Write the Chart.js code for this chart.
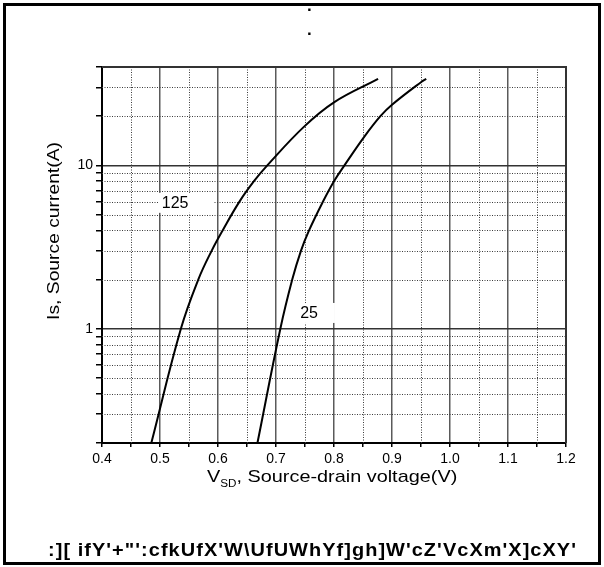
<!DOCTYPE html>
<html>
<head>
<meta charset="utf-8">
<title>Source-drain diode forward characteristic</title>
<script src="https://cdn.jsdelivr.net/npm/chart.js@4.4.1/dist/chart.umd.min.js"></script>
<style>
  html, body { margin: 0; padding: 0; background: #fff; }
  #wrap {
    position: relative;
    width: 604px;
    height: 567px;
    overflow: hidden;
    font-family: "Liberation Sans", Arial, sans-serif;
    color: #000;
  }
  #chart { position: absolute; left: 0; top: 0; }
  #frame {
    position: absolute;
    left: 3px;
    top: 3px;
    width: 592px;
    height: 556px;
    border: 3px solid #000;
    pointer-events: none;
  }
  .txt { position: absolute; white-space: nowrap; display: inline-block; }
  #dots { left: 307px; top: -6px; font-size: 17px; font-weight: bold; line-height: 24px; }
  #xTitle { top: 467px; font-size: 17px; line-height: 20px; transform-origin: center; }
  #xTitle sub { font-size: 10px; vertical-align: -5px; line-height: 0; }
  #yTitle { font-size: 17px; line-height: 20px; transform-origin: center; }
  #caption {
    left: 48px;
    top: 540px;
    font-size: 19px;
    line-height: 20px;
    font-weight: bold;
    letter-spacing: 1px;
    transform-origin: left center;
  }
</style>
</head>
<body>
<div id="wrap">
  <canvas id="chart" width="604" height="567"></canvas>
  <div id="frame"></div>
  <span class="txt" id="dots">.<br>.</span>
  <span class="txt" id="xTitle">V<sub>SD</sub>, Source-drain voltage(V)</span>
  <span class="txt" id="yTitle">Is, Source current(A)</span>
  <span class="txt" id="caption">:][ ifY'+"':cfkUfX'W\UfUWhYf]gh]W'cZ'VcXm'X]cXY'</span>
</div>
<script>
// curve: Tj = 125 C
const v125 = [0.485, 0.536, 0.566, 0.589, 0.608, 0.637, 0.662, 0.685, 0.748, 0.800, 0.876];
const i125 = [0.2, 1.0, 2.0, 3.0, 4.0, 6.0, 8.0, 10.0, 17.2, 24.3, 33.8];

// Tj = 25 C
const v25 = [0.668, 0.7075, 0.728, 0.743, 0.757, 0.781, 0.800, 0.818, 0.853, 0.880, 0.900, 0.951, 0.959];
const i25 = [0.2, 1.0, 2.0, 3.0, 4.0, 6.0, 8.0, 10.0, 15.1, 20.0, 23.5, 32.5, 33.8];

const curveNames = ["125", "25"];

const xTickLabels = ["0.4", "0.5", "0.6", "0.7", "0.8", "0.9", "1.0", "1.1", "1.2"];
const yTickValues = [0.2, 0.3, 0.4, 0.5, 0.6, 0.7, 0.8, 0.9, 1, 2, 3, 4, 5, 6, 7, 8, 9, 10, 20, 30, 40];
const yTickLabels = ["1", "10"];

// where the curve names sit, in data units
const namePos = [
  { x: 0.526, y: 5.9, padL: 3, padR: 25 },
  { x: 0.757, y: 1.25, padL: 5, padR: 17 }
];

const xMajor = xTickLabels.map(Number);
const xTickValues = [];
xMajor.forEach((v, i) => {
  xTickValues.push(v);
  if (i < xMajor.length - 1) xTickValues.push((v + xMajor[i + 1]) / 2);
});

const isMajorX = (v) => xMajor.some((m) => Math.abs(m - v) < 1e-6);
const isMajorY = (v) => yTickLabels.some((m) => Math.abs(Number(m) - v) < 1e-9);

function toPoints(xs, ys) {
  return xs.map((x, i) => ({ x: x, y: ys[i] }));
}

const minorGrid = {
  id: "minorGrid",
  beforeDatasetsDraw(chart) {
    const { ctx, chartArea: a, scales } = chart;
    ctx.save();
    ctx.strokeStyle = "#3a3a3a";
    ctx.lineWidth = 1;
    ctx.setLineDash([1, 1.5]);
    scales.x.ticks.forEach((t) => {
      if (isMajorX(t.value)) return;
      const px = Math.round(scales.x.getPixelForValue(t.value)) + 0.5;
      ctx.beginPath();
      ctx.moveTo(px, a.top);
      ctx.lineTo(px, a.bottom);
      ctx.stroke();
    });
    scales.y.ticks.forEach((t) => {
      if (isMajorY(t.value) || t.value <= 0.2 || t.value >= 40) return;
      const py = Math.round(scales.y.getPixelForValue(t.value)) + 0.5;
      ctx.beginPath();
      ctx.moveTo(a.left, py);
      ctx.lineTo(a.right, py);
      ctx.stroke();
    });
    ctx.restore();

    // curve names with a white box behind them
    ctx.save();
    ctx.font = "16px 'Liberation Sans', Arial, sans-serif";
    ctx.textBaseline = "middle";
    ctx.textAlign = "center";
    curveNames.forEach((name, i) => {
      const p = namePos[i];
      const cx = scales.x.getPixelForValue(p.x);
      const cy = scales.y.getPixelForValue(p.y);
      const w = ctx.measureText(name).width;
      ctx.fillStyle = "#fff";
      ctx.fillRect(cx - w / 2 - p.padL, cy - 10, w + p.padL + p.padR, 20);
      ctx.fillStyle = "#000";
      ctx.fillText(name, cx, cy + 1);
    });
    ctx.restore();
  },
  afterDraw(chart) {
    const { ctx, chartArea: a } = chart;
    ctx.save();
    ctx.strokeStyle = "#333";
    ctx.lineWidth = 2;
    ctx.beginPath();
    ctx.moveTo(a.left, a.top);
    ctx.lineTo(a.right, a.top);
    ctx.lineTo(a.right, a.bottom);
    ctx.stroke();
    ctx.restore();
  }
};

const curveStyle = {
  borderColor: "#000",
  borderWidth: 2,
  pointRadius: 0,
  fill: false,
  tension: 0.4
};

new Chart(document.getElementById("chart"), {
  type: "line",
  data: {
    datasets: [
      Object.assign({ label: curveNames[0], data: toPoints(v125, i125) }, curveStyle),
      Object.assign({ label: curveNames[1], data: toPoints(v25, i25) }, curveStyle)
    ]
  },
  options: {
    responsive: false,
    animation: false,
    devicePixelRatio: 1,
    layout: { padding: { left: 0, top: 67, right: 38, bottom: 94 } },
    plugins: {
      legend: { display: false },
      tooltip: { enabled: false }
    },
    scales: {
      x: {
        type: "linear",
        min: 0.4,
        max: 1.2,
        afterBuildTicks: (s) => {
          s.ticks = xTickValues.map((v) => ({ value: v }));
        },
        afterFit: (s) => {
          s.height = 30;
        },
        ticks: {
          autoSkip: false,
          maxRotation: 0,
          color: "#000",
          padding: 4,
          font: { family: "'Liberation Sans', Arial, sans-serif", size: 14 },
          callback: (v) => {
            const idx = xMajor.findIndex((m) => Math.abs(m - v) < 1e-6);
            return idx >= 0 ? xTickLabels[idx] : "";
          }
        },
        grid: {
          color: (c) => (c.tick && isMajorX(c.tick.value) ? "#5a5a5a" : "rgba(0,0,0,0)"),
          lineWidth: 1.5,
          tickColor: "#000",
          tickLength: 4,
          tickWidth: 1.5
        },
        border: { color: "#000", width: 2 }
      },
      y: {
        type: "logarithmic",
        min: 0.2,
        max: 40,
        afterBuildTicks: (s) => {
          s.ticks = yTickValues.map((v) => ({ value: v }));
        },
        afterFit: (s) => {
          s.width = 102;
        },
        ticks: {
          autoSkip: false,
          color: "#000",
          padding: 3,
          font: { family: "'Liberation Sans', Arial, sans-serif", size: 14 },
          callback: (v) => {
            const idx = yTickLabels.findIndex((m) => Math.abs(Number(m) - v) < 1e-9);
            return idx >= 0 ? yTickLabels[idx] : "";
          }
        },
        grid: {
          color: (c) => (c.tick && isMajorY(c.tick.value) ? "#333" : "rgba(0,0,0,0)"),
          lineWidth: 1.5,
          tickColor: "#000",
          tickLength: 6,
          tickWidth: 1.5
        },
        border: { color: "#000", width: 2 }
      }
    }
  },
  plugins: [minorGrid]
});

// stretch the outside texts to the widths measured on the picture
function placeTexts() {
  const xt = document.getElementById("xTitle");
  const w1 = xt.offsetWidth;
  xt.style.left = 332 - w1 / 2 + "px";
  xt.style.transform = "scaleX(" + 250 / w1 + ")";

  const yt = document.getElementById("yTitle");
  const w2 = yt.offsetWidth;
  const h2 = yt.offsetHeight;
  yt.style.left = 54 - w2 / 2 + "px";
  yt.style.top = 231 - h2 / 2 + "px";
  yt.style.transform = "rotate(-90deg) scaleX(" + 178 / w2 + ")";

  const cap = document.getElementById("caption");
  cap.style.transform = "scaleX(" + 529 / cap.offsetWidth + ")";
}
placeTexts();
</script>
</body>
</html>
